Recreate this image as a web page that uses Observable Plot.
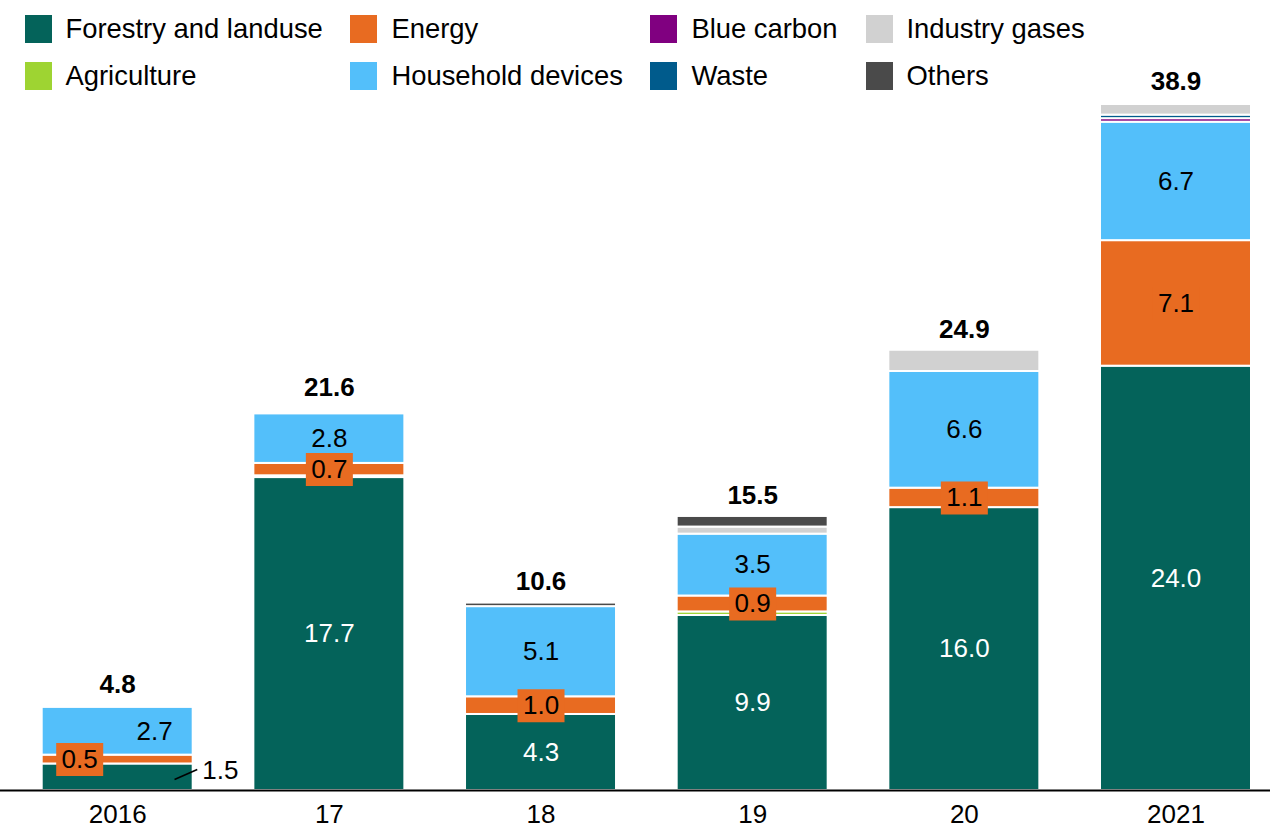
<!DOCTYPE html>
<html><head><meta charset="utf-8">
<script src="https://cdn.jsdelivr.net/npm/d3@7"></script>
<script src="https://cdn.jsdelivr.net/npm/@observablehq/plot@0.6"></script>
<style>
body{margin:0;background:#fff;font-family:"Liberation Sans",Arial,sans-serif;}
#wrap{position:relative;width:1277px;height:828px;overflow:hidden;}
#chart{position:absolute;left:0;top:0;}
.lg{position:absolute;display:flex;align-items:center;font-size:27.4px;color:#000;white-space:nowrap;height:28px;}
.sw{width:27px;height:28px;margin-right:14px;flex:none;}
</style></head><body><div id="wrap"><div id="chart"></div><div id="legend"></div></div>
<script>
const years = ["2016","2017","2018","2019","2020","2021"];
const tickLabels = ["2016","17","18","19","20","2021"];
const seriesNames = ["Forestry and landuse","Agriculture","Energy","Household devices","Blue carbon","Waste","Industry gases","Others"];
const seriesColors = ["#04635a","#9ed432","#e86b21","#53bffa","#800080","#005b8c","#d1d1d1","#4a4a4a"];
const forestry = [1.5,17.7,4.3,9.9,16.0,24.0];
const agriculture = [0,0.1,0,0.2,0,0];
const energy = [0.5,0.7,1.0,0.9,1.1,7.1];
const household = [2.7,2.8,5.1,3.5,6.6,6.7];
const blueCarbon = [0,0,0,0,0,0.2];
const waste = [0,0,0,0,0,0.2];
const industryGases = [0,0,0,0.4,1.2,0.6];
const others = [0,0,0.2,0.6,0,0];
const totals = [4.8,21.6,10.6,15.5,24.9,38.9];

const seriesValues = [forestry, agriculture, energy, household, blueCarbon, waste, industryGases, others];
const data = [];
years.forEach((yr, i) => seriesNames.forEach((s, j) => data.push({year: yr, series: s, value: seriesValues[j][i]})));
const totalRows = years.map((yr, i) => ({year: yr, total: totals[i]}));
const fmt = d3.format(".1f");
const F = seriesNames[0], E = seriesNames[2], H = seriesNames[3];

const boxSymbol = {draw(ctx) { ctx.rect(-23.5, -16.5, 47, 33); }};
const leaderSymbol = {draw(ctx) { ctx.moveTo(-11.35, 5); ctx.lineTo(11.35, -5); }};
const st = (o) => Plot.stackY({x: "year", y: "value", z: "series", order: seriesNames, ...o});

const chart = Plot.plot({
  width: 1277,
  height: 828,
  marginLeft: 0,
  marginRight: 7,
  marginTop: 0,
  marginBottom: 38,
  style: {fontFamily: "'Liberation Sans', Arial, sans-serif", fontSize: "26px", background: "white", color: "black"},
  x: {domain: years, range: [41.7, 1251], paddingInner: 0.2866, paddingOuter: 0, round: false,
      tickSize: 0, tickPadding: 14, tickFormat: d => tickLabels[years.indexOf(d)], label: null},
  y: {domain: [0, 40], range: [790, 82.8], axis: null},
  color: {domain: seriesNames, range: seriesColors},
  marks: [
    Plot.barY(data, Plot.stackY({x: "year", y: "value", fill: "series", order: seriesNames, stroke: "white", strokeWidth: 2})),
    // energy boxes
    Plot.dot(data, st({r: d => d.series === E && d.year !== "2016" ? 1 : 0, symbol: boxSymbol, fill: seriesColors[2], stroke: null})),
    Plot.dot(data, st({r: d => d.series === E && d.year === "2016" ? 1 : 0, symbol: boxSymbol, fill: seriesColors[2], stroke: null, dx: -38})),
    // labels
    Plot.text(data, st({text: d => d.series === F && d.year !== "2016" ? fmt(d.value) : null, fill: "white"})),
    Plot.text(data, st({text: d => (d.series === E || d.series === H) && d.year !== "2016" ? fmt(d.value) : null, fill: "black"})),
    Plot.text(data, st({text: d => d.series === E && d.year === "2016" ? fmt(d.value) : null, fill: "black", dx: -38})),
    Plot.text(data, st({text: d => d.series === H && d.year === "2016" ? fmt(d.value) : null, fill: "black", dx: 37})),
    Plot.text(data, st({text: d => d.series === F && d.year === "2016" ? fmt(d.value) : null, fill: "black", textAnchor: "start", dx: 84.5, dy: -7})),
    Plot.dot(data, st({r: d => d.series === F && d.year === "2016" ? 1 : 0, symbol: leaderSymbol, fill: "none", stroke: "black", strokeWidth: 1.6, dx: 68.2, dy: -2.7})),
    // totals
    Plot.text(totalRows, {x: "year", y: "total", text: d => fmt(d.total), dy: -21, fontWeight: "bold", fill: "black"}),
    Plot.ruleY([0], {stroke: "black", strokeWidth: 2})
  ]
});
document.getElementById("chart").appendChild(chart);

const colX = [24.5, 350.4, 650.4, 865.5];
const rowY = [15, 62];
const legend = document.getElementById("legend");
seriesNames.forEach((s, i) => {
  const item = document.createElement("div");
  item.className = "lg";
  item.style.left = colX[Math.floor(i / 2)] + "px";
  item.style.top = rowY[i % 2] + "px";
  const sw = document.createElement("div");
  sw.className = "sw";
  sw.style.background = seriesColors[i];
  const tx = document.createElement("span");
  tx.textContent = s;
  item.appendChild(sw);
  item.appendChild(tx);
  legend.appendChild(item);
});
</script></body></html>
